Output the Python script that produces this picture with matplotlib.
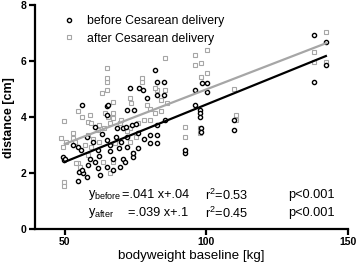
import matplotlib
matplotlib.use('Agg')
import matplotlib.pyplot as plt
import numpy as np

plt.rcParams['font.family'] = ['Liberation Sans', 'DejaVu Sans']
plt.rcParams['mathtext.fontset'] = 'custom'
plt.rcParams['mathtext.rm'] = 'Liberation Sans'
plt.rcParams['mathtext.it'] = 'Liberation Sans'

# before Cesarean delivery (black circles)
before_x = [56, 64.9, 73, 76.3, 77.6, 79, 82, 82.6, 85, 85,
            49.2, 49.8, 52.9, 54.5, 55.6, 55.1, 56.5, 57.7, 54.5,
            65.4, 60.6, 60, 50, 61.8, 64.8, 58.9, 60.6, 58.3, 64.8, 61.8, 55.9, 62.4,
            82.5, 71.9, 74.5, 73.6, 75, 70.7, 68.3, 85.5, 82.5, 76, 80.1, 82.5, 80.1, 82.5,
            71.9, 74.2, 74.2, 70.7, 67.1, 71.3, 69.5, 67.1,
            98.5, 100.2, 96.1, 100.2, 96.1, 97.9, 97.9, 97.9, 98.2, 98.2, 109.7, 109.7,
            92.6, 92.6, 138, 142.2, 142.2, 138,
            63, 66, 68, 70, 72, 58, 62, 66, 69, 76, 78, 64.9, 71.6]
before_y = [4.43, 4.39, 5.03, 5.03, 4.96, 4.68, 5.68, 5.25, 5.25, 4.78,
            2.58, 2.46, 3.0, 2.94, 2.82, 2.05, 1.99, 1.87, 1.71,
            4.43, 3.66, 3.12, 2.52, 2.82, 3.18, 2.52, 2.41, 2.29, 2.23, 2.17, 2.11, 1.93,
            4.79, 4.25, 4.25, 3.71, 3.75, 3.6, 3.6, 3.89, 3.71, 3.42, 3.36, 3.36, 3.06, 3.06,
            2.94, 2.58, 2.7, 2.52, 2.52, 2.41, 2.23, 2.11,
            5.2, 5.2, 4.96, 4.9, 4.43, 4.25, 4.13, 4.01, 3.6, 3.48, 3.89, 3.54,
            2.7, 2.82, 6.93, 6.69, 5.86, 5.26,
            3.4, 3.0, 3.3, 3.1, 3.3, 3.3, 2.6, 2.8, 2.9, 2.9, 3.2, 4.07, 3.64]

# after Cesarean delivery (grey squares)
after_x = [49.8, 54.5, 55.9, 49.4, 50.4, 52.9, 52.9, 54.7, 55.3, 49.6, 49.8,
           64.8, 64.8, 63, 58.9, 58.3, 59.4, 64.2, 65.4, 48.8, 53.5, 58.3, 61.8,
           59.4, 58.3, 54.1, 63.6,
           77.2, 82.5, 73, 73.5, 67.1, 79, 80, 81.9, 67.1, 67.1, 66, 69.5, 73, 67.7, 73, 67, 66,
           100.2, 96.1, 96.1, 98.2, 100.2, 98.2, 85.5, 109.7, 92.6, 92.6, 97.9, 97.9, 110.3, 110.3,
           142.2, 138, 138, 142.2,
           74.2, 74.2, 64.9, 64.9, 77.3, 81.9, 85.5,
           62, 64, 70, 72, 76, 78, 80, 84, 86, 84, 75, 62, 57, 60]
after_y = [3.87, 4.21, 4.01, 2.94, 3.12, 3.44, 3.24, 2.35, 2.23, 1.69, 1.54,
           5.26, 4.96, 4.85, 4.07, 3.83, 3.78, 4.13, 4.01, 3.24, 3.12, 3.36, 3.54,
           2.94, 2.64, 2.35, 2.41,
           5.26, 4.96, 4.67, 4.5, 4.55, 4.43, 4.3, 4.13, 4.13, 3.95, 3.8, 3.78, 3.6, 3.06, 3.12, 2.4, 2.0,
           6.39, 6.21, 5.86, 5.92, 5.56, 5.42, 6.1, 5.02, 3.65, 3.3, 3.6, 3.42, 4.07, 3.9,
           7.05, 6.33, 5.98, 5.98,
           2.7, 2.6, 5.74, 5.38, 5.38, 5.03, 4.96,
           3.7, 3.6, 3.9, 3.5, 3.8, 3.9, 3.9, 4.2, 4.5, 4.6, 3.3, 3.1, 3.0, 3.2]

# regression lines (slope, intercept, x range)
fit_range = [50, 142.2]
before_fit = [0.041, 0.35]
after_fit = [0.039, 1.09]

grey = '#a6a6a6'

fig = plt.figure(figsize=(3.58, 2.67), dpi=100)
ax = fig.add_axes([0.098, 0.142, 0.874, 0.839])

ax.plot(after_x, after_y, 's', ms=3.0, mfc='white', mec=grey, mew=0.8,
        label='after Cesarean delivery', zorder=2)
ax.plot(before_x, before_y, 'o', ms=3.0, mfc='white', mec='black', mew=1.0,
        label='before Cesarean delivery', zorder=3)

xs = np.array(fit_range)
ax.plot(xs, after_fit[0] * xs + after_fit[1], color=grey, lw=1.6, zorder=4)
ax.plot(xs, before_fit[0] * xs + before_fit[1], color='black', lw=1.6, zorder=5)

ax.set_xlim(39.5, 150)
ax.set_ylim(0, 8)
ax.set_xticks([50, 100, 150])
ax.set_yticks([0, 2, 4, 6, 8])
for s in ['top', 'right']:
    ax.spines[s].set_visible(False)
for s in ['left', 'bottom']:
    ax.spines[s].set_linewidth(1.6)
ax.tick_params(width=1.6, length=4, labelsize=7.5, pad=2)
for lab in ax.get_xticklabels() + ax.get_yticklabels():
    lab.set_fontweight('bold')

ax.set_xlabel('bodyweight baseline [kg]', fontsize=9.6, labelpad=2)
ax.set_ylabel('distance [cm]', fontsize=9, fontweight='bold', labelpad=4)

handles, labels = ax.get_legend_handles_labels()
ax.legend(handles[::-1], labels[::-1], loc='upper left', bbox_to_anchor=(0.052, 0.992),
          frameon=False, fontsize=8.8, handletextpad=0.75, handlelength=1.5,
          labelspacing=0.42, borderaxespad=0.3)

fs = 9.2
fig.text(88 / 358, 1 - 195 / 267, r'y$_{\mathrm{before}}$', fontsize=fs, va='center')
fig.text(122 / 358, 1 - 195 / 267, '=.041 x+.04', fontsize=fs, va='center')
fig.text(88 / 358, 1 - 213 / 267, r'y$_{\mathrm{after}}$', fontsize=fs, va='center')
fig.text(128 / 358, 1 - 213 / 267, '=.039 x+.1', fontsize=fs, va='center')
fig.text(205 / 358, 1 - 195 / 267, r'r$^{2}$=0.53', fontsize=fs, va='center')
fig.text(205 / 358, 1 - 213 / 267, r'r$^{2}$=0.45', fontsize=fs, va='center')
fig.text(288 / 358, 1 - 195 / 267, 'p<0.001', fontsize=fs, va='center')
fig.text(288 / 358, 1 - 213 / 267, 'p<0.001', fontsize=fs, va='center')

fig.savefig('out.png', dpi=100)
